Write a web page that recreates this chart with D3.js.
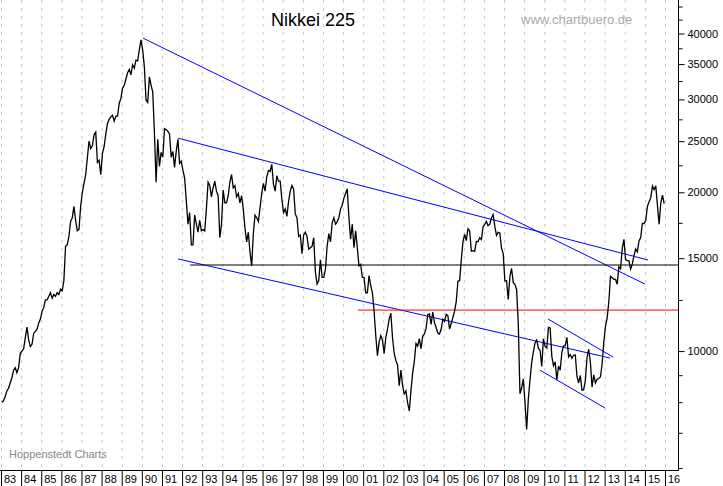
<!DOCTYPE html><html><head><meta charset="utf-8"><script src="https://cdn.jsdelivr.net/npm/d3@7"></script>
<style>body{margin:0;background:#fff}svg{display:block;font-family:Arial,"Liberation Sans",sans-serif}</style></head><body><svg id="c" width="723" height="486"></svg><script>
const years=[1983,1984,1985,1986,1987,1988,1989,1990,1991,1992,1993,1994,1995,1996,1997,1998,1999,2000,2001,2002,2003,2004,2005,2006,2007,2008,2009,2010,2011,2012,2013,2014,2015];
const monthly=[
[8000,8050,8200,8400,8500,8700,8900,9200,9300,9100,9300,9900],
[10000,10100,10600,11100,10500,10200,10300,10800,10900,11000,11300,11500],
[11900,12100,12500,12500,12700,12900,12600,12800,12700,12900,12800,13100],
[13000,13600,15800,15900,16500,17600,17900,18800,17700,16900,17000,18800],
[20000,20800,21600,23200,25000,24200,24500,25700,26000,22800,23000,21600],
[23700,24400,25800,27000,27500,27800,28000,27300,27900,27900,29500,30100],
[31500,31900,32800,33700,34200,33400,34900,34400,35600,35500,37300,38900],
[37200,34600,29900,29600,33100,31900,31000,25900,20900,25200,22400,23800],
[23300,26400,26300,26100,25800,23300,23900,22300,23900,25200,22700,22900],
[22000,21300,19300,17400,18300,15900,15900,18100,17400,16800,17700,16900],
[17000,16900,18600,20900,20600,19600,20400,21000,20100,19700,16400,17400],
[20200,19100,19100,19700,20900,21600,20400,20600,19600,19900,19100,19700],
[18600,17100,16100,16800,15400,14500,16700,18100,17900,17600,18700,19900],
[20800,20100,21400,22000,21900,22600,20700,20100,21500,21000,21000,19400],
[18300,18600,18000,19200,20100,20600,20300,18200,17900,16500,16600,15300],
[16600,16800,16500,15600,15700,15800,16400,14100,13400,13600,14900,13800],
[13800,14300,15800,16700,16100,17500,17900,17400,17600,17900,18600,18900],
[19500,19900,20300,17900,16300,17400,15700,16900,15700,14500,14600,13800],
[13800,12900,12900,13900,13300,12900,11900,10700,9800,10400,10700,10500],
[9900,10600,11000,11500,11800,10600,9900,9600,9400,8600,9200,8600],
[8300,8400,7980,7700,8420,9080,9560,10340,10220,10560,10100,10680],
[10780,11040,11720,11760,11240,11860,11330,11080,10820,10770,11000,11490],
[11390,11740,11670,11010,11280,11580,11900,12410,13570,13600,14870,16110],
[16650,16200,17060,16910,15470,15500,15460,16140,16130,16400,16270,17230],
[17380,17600,17290,17400,17880,18140,17250,16570,16790,16740,15680,15310],
[13590,13600,12530,13850,14340,13480,13380,13070,11260,8300,8510,8860],
[7990,7100,8110,8830,9520,9960,10360,10490,10130,10030,9350,10550],
[10200,10130,11090,11060,9770,9380,9540,8820,9370,9200,9940,10230],
[10240,10620,9750,9850,9690,9820,9830,8950,8700,8990,8430,8450],
[8800,9720,10080,9520,8540,9010,8700,8840,8870,8930,9450,10400],
[11140,11560,12400,13860,13770,13680,13670,13390,14450,14330,15660,16290],
[14910,14840,14830,14300,14630,15160,15620,15420,16170,16410,17460,17450],
[17670,18800,19200,19520,20560,20240,20580,18890,17390,19080,19750,19030]];
const yearLabels=["83","84","85","86","87","88","89","90","91","92","93","94","95","96","97","98","99","00","01","02","03","04","05","06","07","08","09","10","11","12","13","14","15","16"];
const majorTicks=[10000,15000,20000,25000,30000,35000,40000];
const minorTicks=[6000,7000,8000,9000,12500,17500,22500,27500,32500,37500,42500,45000];
// trend lines: [startYear,startVal,endYear,endVal,color]
const trendLines=[
[1990.06,39200,2015.0,13400,"#0000ff"],
[1991.8,25330,2015.16,14880,"#0000ff"],
[1991.8,14950,2013.27,9700,"#0000ff"],
[2010.19,11500,2013.42,9740,"#0000ff"],
[2009.79,9200,2013.02,7800,"#0000ff"],
[1992.4,14560,2016.75,14560,"#000000"],
[2000.74,11960,2016.75,11960,"#ff0000"]];
const data=[];
years.forEach((y,i)=>monthly[i].forEach((v,m)=>data.push([y+(m+0.5)/12,v])));
const svg=d3.select("#c");
const x=d3.scaleLinear().domain([1983,2016]).range([1,665]);
const y=d3.scaleLog().domain([5950,46300]).range([470,0]);
const R=678;
svg.append("g").selectAll("line").data(d3.range(1983,2017)).join("line")
 .attr("x1",d=>x(d)+0.5).attr("x2",d=>x(d)+0.5).attr("y1",0).attr("y2",470)
 .attr("stroke","#c8c8c8").attr("stroke-dasharray","3,5");
svg.append("g").selectAll("line").data(trendLines).join("line")
 .attr("x1",d=>Math.min(x(d[0]),R)).attr("y1",d=>y(d[1])).attr("x2",d=>Math.min(x(d[2]),R)).attr("y2",d=>y(d[3]))
 .attr("stroke",d=>d[4]).attr("stroke-width",1);
svg.append("path").datum(data).attr("fill","none").attr("stroke","#000").attr("stroke-width",1.3)
 .attr("d",d3.line().x(d=>x(d[0])).y(d=>y(d[1])));
svg.append("line").attr("x1",0).attr("x2",R+0.5).attr("y1",470.5).attr("y2",470.5).attr("stroke","#000");
svg.append("line").attr("x1",R+0.5).attr("x2",R+0.5).attr("y1",0).attr("y2",471).attr("stroke","#000");
const ya=svg.append("g").attr("transform",`translate(${R+0.5},0)`);
ya.call(d3.axisRight(y).tickValues(majorTicks).tickSize(6).tickFormat(d3.format("d")));
ya.append("g").call(d3.axisRight(y).tickValues(minorTicks).tickSize(4).tickFormat(""));
ya.selectAll(".domain").remove();
ya.selectAll("text").attr("font-size",11).attr("fill","#000").attr("x",9);
const xa=svg.append("g");
xa.selectAll("line").data(d3.range(1983,2017)).join("line").attr("x1",d=>x(d)+0.5).attr("x2",d=>x(d)+0.5).attr("y1",470).attr("y2",486).attr("stroke","#000");
xa.selectAll("text").data(yearLabels).join("text").attr("x",(d,i)=>x(1983+i)+3).attr("y",483).attr("font-size",11).text(d=>d);
svg.append("text").attr("x",313).attr("y",26).attr("text-anchor","middle").attr("font-size",18).text("Nikkei 225");
svg.append("text").attr("x",521).attr("y",24).attr("font-size",13).attr("fill","#aaa").text("www.chartbuero.de");
svg.append("text").attr("x",9).attr("y",458).attr("font-size",11).attr("fill","#888").text("Hoppenstedt Charts");
</script></body></html>
